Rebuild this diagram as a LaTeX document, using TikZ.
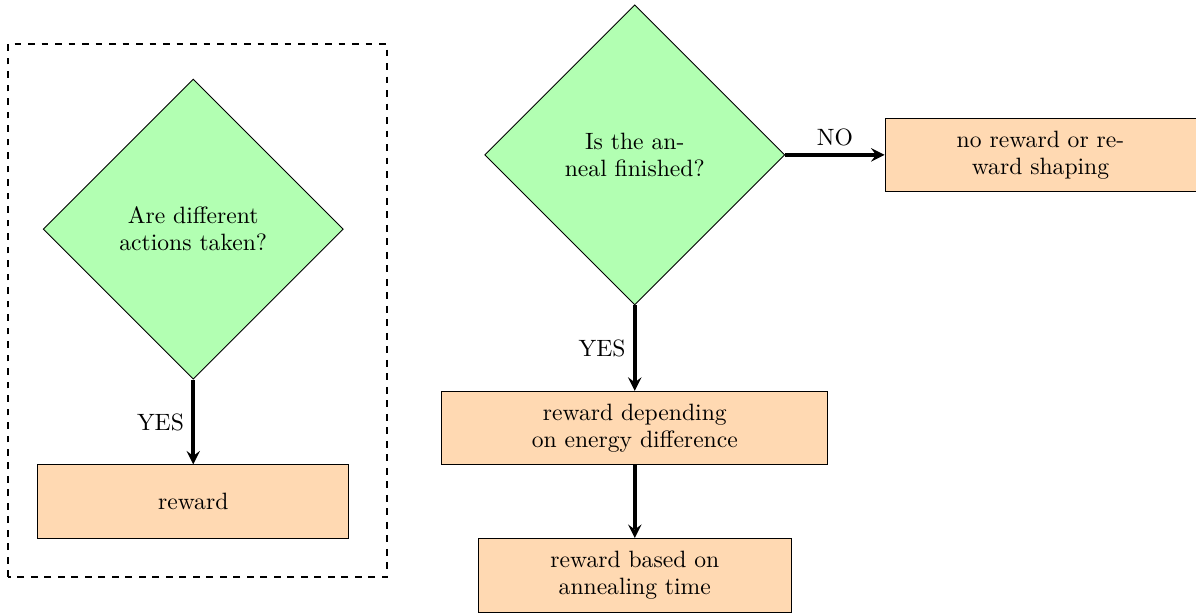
\documentclass[tikz,border=0pt]{standalone}
\usepackage{amsmath}
\usepackage{tikz}
\usetikzlibrary{shapes.geometric, positioning}

\begin{document}
\begin{tikzpicture}[>=stealth, font=\fontsize{10.5pt}{12pt}\selectfont]
    \tikzstyle{decision} = [draw, thin, diamond, aspect=1, minimum width=4.69cm, minimum height=4.69cm, inner sep=0pt, align=center, fill=green!30]
    \tikzstyle{block} = [draw, thin, rectangle, minimum height=1.15cm, align=center, fill=orange!30]
    \useasboundingbox (0,0) rectangle (18.69,9.58);

    % Left part
    \node[decision] (actions) at (3.02,6.0) {Are different\\actions taken?};
    \node[block, minimum width=4.86cm, below of=actions, node distance=4.26cm] (reward) {reward};
    \draw[thick, dashed] (0.125,0.56) rectangle (6.05,8.89);

    % Right part
    \node[decision] (anneal) at (9.92,7.16) {Is the an-\\neal finished?};
    \node[block, minimum width=4.86cm, right of=anneal, node distance=6.34cm] (noreward) {no reward or re-\\ward shaping};
    \node[block, minimum width=6.03cm, below of=anneal, node distance=4.27cm] (energy) {reward depending\\on energy difference};
    \node[block, minimum width=4.89cm, below of=energy, node distance=2.3cm] (time) {reward based on\\annealing time};

    % Edges
    \path[->, ultra thick]
        (actions) edge node[left] {YES} (reward)
        (anneal) edge node[above] {NO} (noreward)
        (anneal) edge node[left] {YES} (energy)
        (energy) edge (time);
\end{tikzpicture}
\end{document}
